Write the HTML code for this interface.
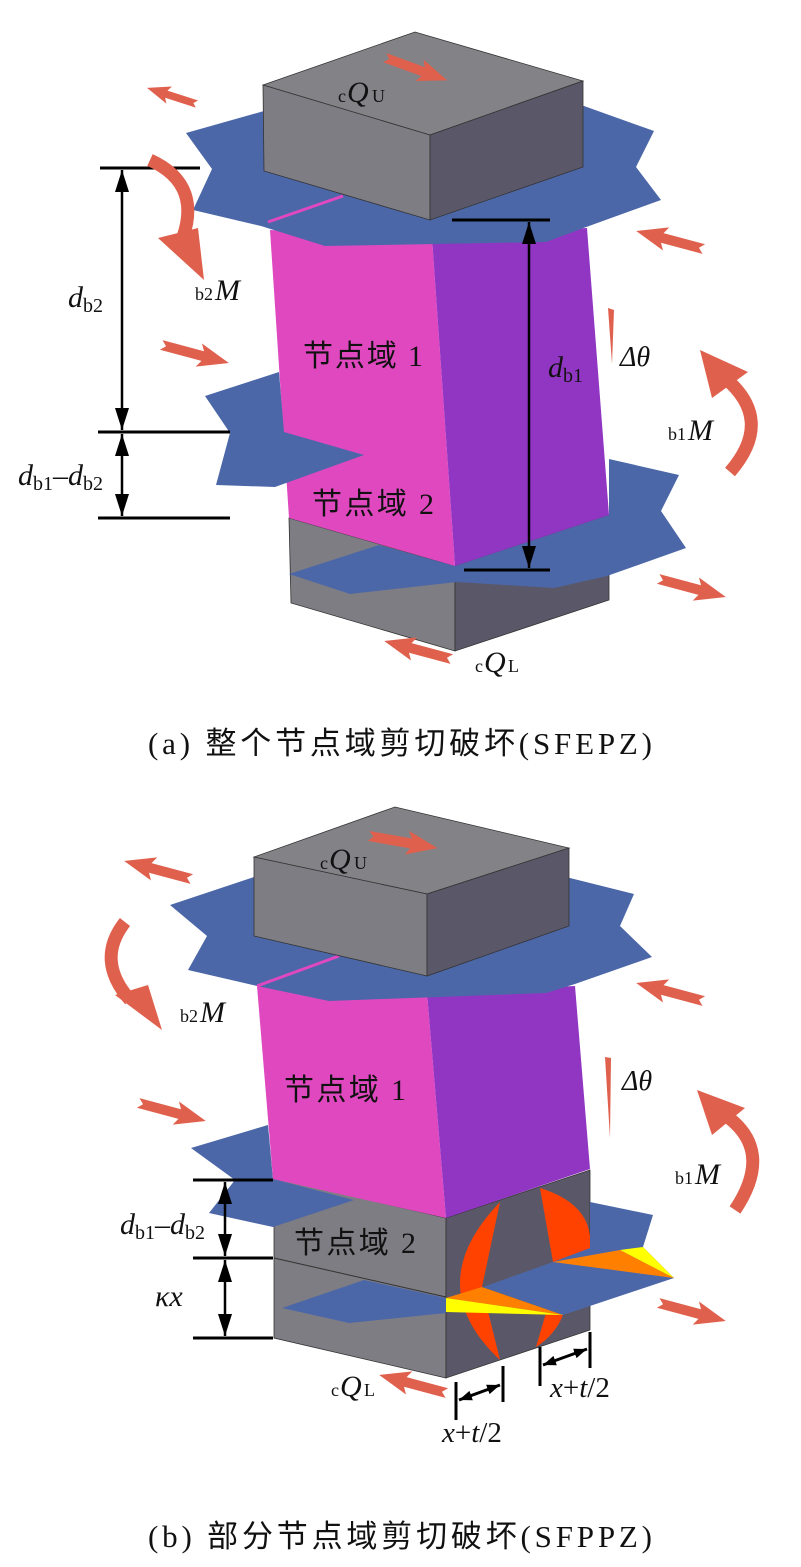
<!DOCTYPE html>
<html><head><meta charset="utf-8"><style>
body{margin:0;background:#fff}
svg{display:block}
text{font-family:"Liberation Serif","Noto Serif CJK SC",serif;fill:#111}
.cn{font-family:"Liberation Serif","Noto Sans CJK SC",sans-serif}
</style></head><body>
<svg width="801" height="1567" viewBox="0 0 801 1567" xmlns="http://www.w3.org/2000/svg">
<defs>
<g id="arr"><polygon points="-35,-5 8,-5 4,-12 35,0 4,12 8,5 -35,5 -30,0" fill="#e0604e"/></g>
<marker id="ah" markerWidth="22" markerHeight="14" refX="22" refY="7" orient="auto-start-reverse" markerUnits="userSpaceOnUse" viewBox="0 0 22 14"><polygon points="0,0 22,7 0,14" fill="#000"/></marker>
<marker id="ah2" markerWidth="13" markerHeight="10" refX="13" refY="5" orient="auto-start-reverse" markerUnits="userSpaceOnUse" viewBox="0 0 13 10"><polygon points="0,0 13,5 0,10" fill="#000"/></marker>
</defs>

<!-- ========== (a) ========== -->
<polygon points="289,518 455,566 455,651 291,603" fill="#7e7d83" stroke="#333" stroke-width="0.8"/>
<polygon points="455,566 609,515 609,600 455,651" fill="#5a5868" stroke="#333" stroke-width="0.8"/>
<polygon points="289,574 379,545 455,566 609,515 609,459 679,475 661,511 686,548 607,576 554,588 457,582 350,594" fill="#4c67a8"/>
<polygon points="270,230 432,238 455,566 289,518" fill="#e048c0"/>
<polygon points="432,238 587,228 609,515 455,566" fill="#9036c2"/>
<polygon points="205,396 279,372 284,432 364,455 275,487 216,485 230,433" fill="#4c67a8"/>
<polygon points="186,133 264,111 584,106 654,131 636,167 661,200 589,226 546,242 325,246 261,226 193,210 212,169" fill="#4c67a8"/>
<line x1="268" y1="222" x2="343" y2="196" stroke="#e048c0" stroke-width="3"/>
<polygon points="263,85 415,32 583,81 430,135" fill="#838287" stroke="#333" stroke-width="0.8"/>
<polygon points="263,85 430,135 430,220 264,171" fill="#7e7d83" stroke="#333" stroke-width="0.8"/>
<polygon points="430,135 583,81 583,167 430,220" fill="#5a5868" stroke="#333" stroke-width="0.8"/>

<line x1="452" y1="220" x2="550" y2="220" stroke="#000" stroke-width="3"/>
<line x1="464" y1="570" x2="550" y2="570" stroke="#000" stroke-width="3"/>
<line x1="529" y1="222" x2="529" y2="568" stroke="#000" stroke-width="2.5" marker-start="url(#ah)" marker-end="url(#ah)"/>
<text x="548" y="377" font-size="30" font-style="italic">d<tspan font-size="20" font-style="normal" dy="5">b1</tspan></text>

<line x1="100" y1="168" x2="200" y2="168" stroke="#000" stroke-width="3"/>
<line x1="98" y1="432" x2="230" y2="432" stroke="#000" stroke-width="3"/>
<line x1="98" y1="518" x2="230" y2="518" stroke="#000" stroke-width="3"/>
<line x1="122" y1="170" x2="122" y2="430" stroke="#000" stroke-width="2.5" marker-start="url(#ah)" marker-end="url(#ah)"/>
<line x1="122" y1="434" x2="122" y2="516" stroke="#000" stroke-width="2.5" marker-start="url(#ah)" marker-end="url(#ah)"/>
<text x="68" y="307" font-size="30" font-style="italic">d<tspan font-size="20" font-style="normal" dy="5">b2</tspan></text>
<text x="18" y="485" font-size="30" font-style="italic">d<tspan font-size="20" font-style="normal" dy="5">b1</tspan><tspan dy="-5" font-style="normal">–</tspan>d<tspan font-size="20" font-style="normal" dy="5">b2</tspan></text>

<use href="#arr" transform="translate(416,69) rotate(20) scale(0.95)"/>
<use href="#arr" transform="translate(172,96) rotate(198) scale(0.75)"/>
<use href="#arr" transform="translate(195,354) rotate(15)"/>
<use href="#arr" transform="translate(670,240) rotate(195)"/>
<use href="#arr" transform="translate(692,588) rotate(15)"/>
<use href="#arr" transform="translate(418,650) rotate(195)"/>
<path d="M150,160 Q205,185 180,245" fill="none" stroke="#e0604e" stroke-width="13"/>
<polygon points="158,238 204,280 198,228" fill="#e0604e"/>
<path d="M730,472 Q775,420 725,378" fill="none" stroke="#e0604e" stroke-width="13"/>
<polygon points="700,350 748,372 712,398" fill="#e0604e"/>
<polygon points="608,308 614,310 612,364" fill="#e0604e"/>

<text x="338" y="102" font-size="18">c</text><text x="347" y="102" font-size="30" font-style="italic">Q</text><text x="372" y="102" font-size="18">U</text>
<text x="195" y="300" font-size="18">b2</text><text x="215" y="300" font-size="30" font-style="italic">M</text>
<text x="303" y="366" font-size="30" class="cn" textLength="120">节点域 1</text>
<text x="620" y="366" font-size="28" font-style="italic">Δθ</text>
<text x="668" y="440" font-size="18">b1</text><text x="688" y="440" font-size="30" font-style="italic">M</text>
<text x="312" y="514" font-size="30" class="cn" textLength="122">节点域 2</text>
<text x="475" y="672" font-size="18">c</text><text x="484" y="672" font-size="30" font-style="italic">Q</text><text x="508" y="672" font-size="18">L</text>
<text x="148" y="754" font-size="31" class="cn" textLength="504">(a)  整个节点域剪切破坏(SFEPZ)</text>

<!-- ========== (b) ========== -->
<polygon points="274,1178 446,1218 446,1378 274,1338" fill="#7e7d83" stroke="#333" stroke-width="0.8"/>
<polygon points="446,1218 590,1170 590,1330 446,1378" fill="#5a5868" stroke="#333" stroke-width="0.8"/>
<line x1="274" y1="1258" x2="446" y2="1297" stroke="#333" stroke-width="1"/>
<path d="M500,1202 Q420,1285 500,1360 L482,1287 Z" fill="#ff4200"/>
<path d="M540,1188 Q595,1205 590,1250 L553,1262 Z" fill="#ff4200"/>
<path d="M563,1315 Q555,1335 536,1347 L546,1313 Z" fill="#ff4200"/>
<polygon points="282,1308 364,1280 446,1298 446,1313 349,1323" fill="#4c67a8"/>
<polygon points="483,1287 553,1262 590,1248 590,1202 653,1215 643,1247 674,1278 563,1315" fill="#4c67a8"/>
<polygon points="482,1287 446,1298 563,1315" fill="#ff8000"/>
<polygon points="446,1298 446,1312 563,1315" fill="#ffff00"/>
<polygon points="553,1262 620,1250 674,1278" fill="#ff8000"/>
<polygon points="620,1250 643,1247 674,1278" fill="#ffff00"/>
<polygon points="191,1148 268,1125 273,1179 354,1200 273,1227 209,1213 235,1180" fill="#4c67a8"/>
<polygon points="257,986 427,993 446,1218 273,1179" fill="#e048c0"/>
<polygon points="427,993 575,986 590,1169 446,1218" fill="#9036c2"/>
<polygon points="170,905 254,877 570,878 634,894 620,926 652,957 575,984 546,993 329,1001 257,986 188,970 207,936" fill="#4c67a8"/>
<line x1="257" y1="986" x2="339" y2="956" stroke="#e048c0" stroke-width="3"/>
<polygon points="254,857 395,807 569,848 427,894" fill="#838287" stroke="#333" stroke-width="0.8"/>
<polygon points="254,857 427,894 427,976 254,936" fill="#7e7d83" stroke="#333" stroke-width="0.8"/>
<polygon points="427,894 569,848 569,926 427,976" fill="#5a5868" stroke="#333" stroke-width="0.8"/>

<line x1="193" y1="1180" x2="273" y2="1180" stroke="#000" stroke-width="3"/>
<line x1="193" y1="1258" x2="273" y2="1258" stroke="#000" stroke-width="3"/>
<line x1="193" y1="1338" x2="273" y2="1338" stroke="#000" stroke-width="3"/>
<line x1="225" y1="1182" x2="225" y2="1256" stroke="#000" stroke-width="2.5" marker-start="url(#ah)" marker-end="url(#ah)"/>
<line x1="225" y1="1260" x2="225" y2="1336" stroke="#000" stroke-width="2.5" marker-start="url(#ah)" marker-end="url(#ah)"/>
<text x="120" y="1234" font-size="30" font-style="italic">d<tspan font-size="20" font-style="normal" dy="5">b1</tspan><tspan dy="-5" font-style="normal">–</tspan>d<tspan font-size="20" font-style="normal" dy="5">b2</tspan></text>
<text x="155" y="1306" font-size="30" font-style="italic">κx</text>
<line x1="456" y1="1382" x2="456" y2="1420" stroke="#000" stroke-width="3"/>
<line x1="503" y1="1366" x2="503" y2="1402" stroke="#000" stroke-width="3"/>
<line x1="459" y1="1400" x2="500" y2="1385" stroke="#000" stroke-width="3" marker-start="url(#ah2)" marker-end="url(#ah2)"/>
<line x1="540" y1="1347" x2="540" y2="1386" stroke="#000" stroke-width="3"/>
<line x1="590" y1="1332" x2="590" y2="1368" stroke="#000" stroke-width="3"/>
<line x1="543" y1="1365" x2="587" y2="1349" stroke="#000" stroke-width="3" marker-start="url(#ah2)" marker-end="url(#ah2)"/>
<text x="442" y="1442" font-size="29" font-style="italic">x<tspan font-style="normal">+</tspan>t<tspan font-style="normal">/2</tspan></text>
<text x="550" y="1397" font-size="29" font-style="italic">x<tspan font-style="normal">+</tspan>t<tspan font-style="normal">/2</tspan></text>

<use href="#arr" transform="translate(403,842) rotate(10)"/>
<use href="#arr" transform="translate(158,870) rotate(195)"/>
<use href="#arr" transform="translate(172,1112) rotate(15)"/>
<use href="#arr" transform="translate(670,992) rotate(195)"/>
<use href="#arr" transform="translate(692,1312) rotate(15)"/>
<use href="#arr" transform="translate(413,1384) rotate(195)"/>
<path d="M125,922 Q95,960 130,1000" fill="none" stroke="#e0604e" stroke-width="13"/>
<polygon points="115,995 162,1030 148,985" fill="#e0604e"/>
<path d="M735,1210 Q775,1150 725,1115" fill="none" stroke="#e0604e" stroke-width="13"/>
<polygon points="697,1090 745,1108 712,1135" fill="#e0604e"/>
<polygon points="605,1057 611,1058 610,1138" fill="#e0604e"/>

<text x="320" y="869" font-size="18">c</text><text x="329" y="869" font-size="30" font-style="italic">Q</text><text x="354" y="869" font-size="18">U</text>
<text x="180" y="1022" font-size="18">b2</text><text x="200" y="1022" font-size="30" font-style="italic">M</text>
<text x="284" y="1100" font-size="30" class="cn" textLength="122">节点域 1</text>
<text x="622" y="1090" font-size="28" font-style="italic">Δθ</text>
<text x="675" y="1184" font-size="18">b1</text><text x="695" y="1184" font-size="30" font-style="italic">M</text>
<text x="294" y="1253" font-size="30" class="cn" textLength="122">节点域 2</text>
<text x="331" y="1396" font-size="18">c</text><text x="340" y="1396" font-size="30" font-style="italic">Q</text><text x="364" y="1396" font-size="18">L</text>
<text x="148" y="1547" font-size="31" class="cn" textLength="504">(b)  部分节点域剪切破坏(SFPPZ)</text>
</svg>
</body></html>
